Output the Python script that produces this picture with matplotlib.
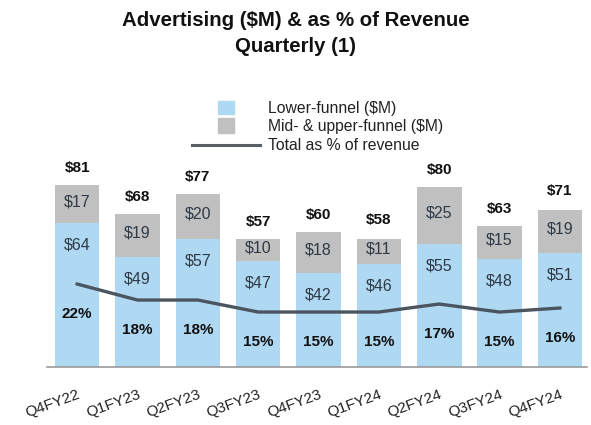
import numpy as np
import matplotlib.pyplot as plt
from matplotlib.patches import Rectangle
from matplotlib.lines import Line2D

plt.rcParams['font.family'] = ['Liberation Sans', 'DejaVu Sans']

# Dane
quarters = ['Q4FY22', 'Q1FY23', 'Q2FY23', 'Q3FY23', 'Q4FY23',
            'Q1FY24', 'Q2FY24', 'Q3FY24', 'Q4FY24']
lower = [64, 49, 57, 47, 42, 46, 55, 48, 51]
upper = [17, 19, 20, 10, 18, 11, 25, 15, 19]
totals = [81, 68, 77, 57, 60, 58, 80, 63, 71]
pct = [22, 18, 18, 15, 15, 15, 17, 15, 16]

blue = '#afd8f3'
grey = '#c0c0c0'
line_c = '#4b5560'
txt_c = '#2e3a46'

W, H = 591, 425
fig = plt.figure(figsize=(W / 100, H / 100), dpi=100)
ax = fig.add_axes([47 / W, (H - 367) / H, 540 / W, 224.5 / H])
x = np.arange(len(quarters))

ax.bar(x, lower, width=0.74, color=blue, zorder=2)
ax.bar(x, upper, width=0.74, bottom=lower, color=grey, zorder=2)
ax.set_xlim(-0.5, 8.45)
ax.set_ylim(0, 100)

for i in range(len(x)):
    ax.text(x[i], lower[i] - 9.8, f'${lower[i]}', ha='center', va='center',
            fontsize=11.5, color=txt_c, zorder=5)
    ax.text(x[i], lower[i] + upper[i] / 2 + 1, f'${upper[i]}', ha='center', va='center',
            fontsize=11.5, color=txt_c, zorder=5)
    ax.text(x[i], totals[i] + 7.6, f'${totals[i]}', ha='center', va='center',
            fontsize=11, fontweight='bold', color='#111111', zorder=5)

for s in ['top', 'right', 'left']:
    ax.spines[s].set_visible(False)
ax.spines['bottom'].set_color('#999999')
ax.spines['bottom'].set_linewidth(1.2)
ax.set_yticks([])
ax.set_xticks(x)
ax.set_xticklabels(quarters, rotation=20, ha='right', rotation_mode='anchor',
                   fontsize=11, color='#222222')
ax.tick_params(axis='x', length=0, pad=15)

ax2 = ax.twinx()
ax2.set_ylim(1.25, 57.4)
ax2.plot(x, pct, color=line_c, linewidth=2.4, zorder=4)
for i in range(len(x)):
    ax2.text(x[i], pct[i] - 7.5, f'{pct[i]}%', ha='center', va='center',
             fontsize=11, fontweight='bold', color='#111111')
ax2.axis('off')

# tytul
fig.text(0.5, 1 - 21 / H, 'Advertising ($M) & as % of Revenue', ha='center', va='center',
         fontsize=14.7, fontweight='bold', color='#111111')
fig.text(0.5, 1 - 46 / H, 'Quarterly (1)', ha='center', va='center',
         fontsize=14.7, fontweight='bold', color='#111111')

# legenda
fig.add_artist(Rectangle((218 / W, 1 - 114 / H), 16 / W, 13 / H, color=blue,
                         transform=fig.transFigure))
fig.add_artist(Rectangle((218 / W, 1 - 133 / H), 16 / W, 15 / H, color=grey,
                         transform=fig.transFigure))
fig.add_artist(Line2D([192 / W, 260 / W], [1 - 145 / H, 1 - 145 / H], color='#5a5f66',
                      linewidth=2.2, transform=fig.transFigure))
for yy, lab in [(108, 'Lower-funnel ($M)'), (127, 'Mid- & upper-funnel ($M)'),
                (145, 'Total as % of revenue')]:
    fig.text(268 / W, 1 - yy / H, lab, ha='left', va='center', fontsize=11.3, color='#222222')

fig.savefig('out.png', dpi=100)
